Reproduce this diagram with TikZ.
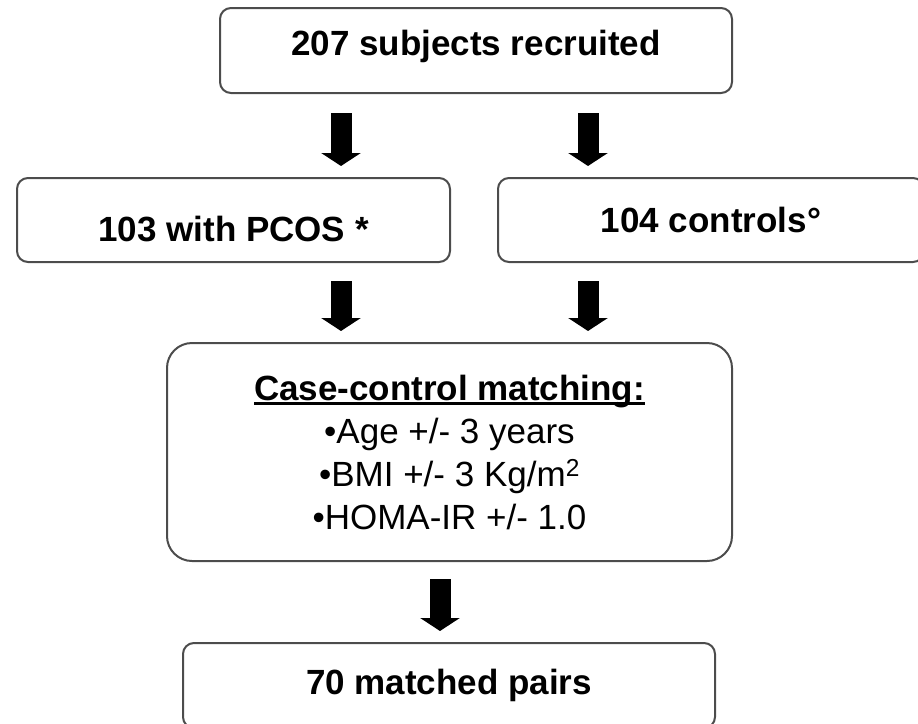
\documentclass[tikz,border=0pt]{standalone}
\usepackage{fontspec}
\setmainfont{Liberation Sans}
\usetikzlibrary{arrows.meta}
\newcommand\thickul[1]{\setbox0\hbox{#1}\rlap{\rule[-5pt]{\wd0}{2.6pt}}\box0}
\tikzset{
	box/.style={draw=black!70,line width=2pt,rounded corners=11pt,inner sep=0pt,font=\fontsize{35}{43}\selectfont\bfseries},
	bigarrow/.style={line width=21pt,-{Triangle[width=39pt,length=13pt]}},
}
\begin{document}
\begin{tikzpicture}[x=1pt,y=-1pt,line cap=butt]
		\useasboundingbox (0,0) rectangle (918,723);
		\clip (0,0) rectangle (918,723);
		\node[box,minimum width=512pt,minimum height=85pt] (recr) at (476,50.5) {\raisebox{4pt}[\height][\depth]{207 subjects recruited}};
		\node[box,minimum width=433pt,minimum height=84pt] (pcos) at (233.5,220) {\raisebox{-9pt}[\height][\depth]{103 with PCOS *}};
		\node[box,minimum width=426pt,minimum height=84pt] (ctrl) at (711,220) {104 controls°};
		\node[box,rounded corners=25pt,minimum width=565pt,minimum height=218pt,align=center] (match) at (449.5,452)
			{\thickul{Case-control matching:}\\ \mdseries •Age +/- 3 years\\ \mdseries •BMI +/- 3 Kg/m\textsuperscript{2}\\ \mdseries •HOMA-IR +/- 1.0};
		\node[box,minimum width=532pt,minimum height=85pt] (pairs) at (449,685.5) {70 matched pairs};
		% arrows
		\draw[bigarrow] ([xshift=-135pt,yshift=-19pt]recr.south) -- ([xshift=107.5pt,yshift=11pt]pcos.north);
		\draw[bigarrow] ([xshift=112pt,yshift=-19pt]recr.south) -- ([xshift=-123pt,yshift=11pt]ctrl.north);
		\draw[bigarrow] ([xshift=107.5pt,yshift=-18pt]pcos.south) -- ([xshift=-108.5pt,yshift=11pt]match.north);
		\draw[bigarrow] ([xshift=-123pt,yshift=-18pt]ctrl.south) -- ([xshift=138.5pt,yshift=11pt]match.north);
		\draw[bigarrow] ([xshift=-9.5pt,yshift=-17pt]match.south) -- ([xshift=-9pt,yshift=11pt]pairs.north);
	\end{tikzpicture}
\end{document}
